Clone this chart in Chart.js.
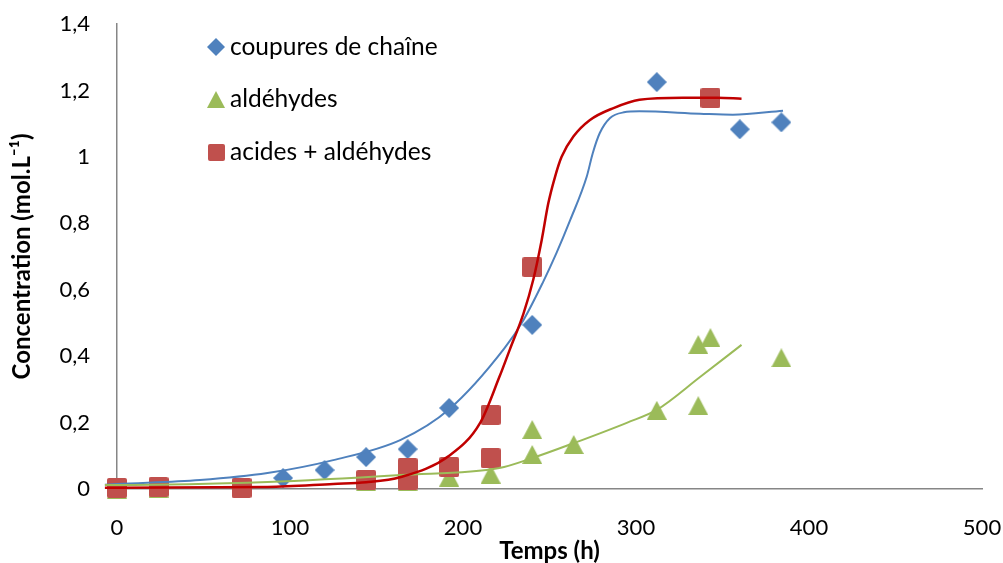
<!DOCTYPE html>
<html><head><meta charset="utf-8">
<script src="https://cdn.jsdelivr.net/npm/chart.js@4.4.0/dist/chart.umd.min.js"></script>
<style>html,body{margin:0;padding:0;background:#fff;}#wrap{width:1003px;height:563px;}</style>
</head><body><div id="wrap"><canvas id="c" width="1003" height="563"></canvas></div>
<script>
// ---- data ----
const seriesLabels = ['coupures de chaîne', 'aldéhydes', 'acides + aldéhydes'];

const coupuresX = [0, 24, 96, 120, 144, 168, 192, 240, 312, 360, 384];
const coupuresY = [0.0, 0.003, 0.033, 0.057, 0.096, 0.12, 0.244, 0.494, 1.225, 1.083, 1.104];

const aldehydesX = [0, 24, 144, 168, 192, 216, 240, 240, 264, 312, 336, 336, 343, 384];
const aldehydesY = [0.0, 0.003, 0.022, 0.022, 0.036, 0.045, 0.104, 0.179, 0.134, 0.237, 0.251, 0.435, 0.456, 0.395];

const acidesX = [0, 24, 72, 144, 168, 168, 192, 216, 216, 240, 343];
const acidesY = [0.003, 0.006, 0.003, 0.027, 0.027, 0.063, 0.066, 0.093, 0.223, 0.668, 1.177];

// fitted curves
const fitCoupuresX = [-7, 0, 48, 87, 125, 164, 192, 224, 235, 246, 254, 262, 271.5, 275, 279, 285, 293, 302, 337, 356, 385];
const fitCoupuresY = [0.013, 0.015, 0.027, 0.048, 0.087, 0.148, 0.24, 0.424, 0.509, 0.62, 0.71, 0.81, 0.94, 1.011, 1.071, 1.117, 1.134, 1.137, 1.13, 1.127, 1.139];

const fitAcidesX = [-7, 0, 87, 125, 144, 164, 192, 210, 221, 227, 235, 240.6, 245.5, 249.3, 253.2, 257, 263.8, 273.4, 287, 302, 327, 347, 361];
const fitAcidesY = [0.004, 0.004, 0.006, 0.015, 0.02, 0.036, 0.10, 0.2, 0.337, 0.419, 0.529, 0.63, 0.75, 0.86, 0.94, 1.0, 1.061, 1.111, 1.147, 1.172, 1.178, 1.178, 1.175];

const fitAldehydesX = [-7, 0, 87, 164, 221, 240, 264, 295, 312, 337, 361];
const fitAldehydesY = [0.012, 0.012, 0.021, 0.042, 0.063, 0.093, 0.138, 0.2, 0.238, 0.337, 0.434];

const xTicks = [0, 100, 200, 300, 400, 500];
const yTickLabels = ['0', '0,2', '0,4', '0,6', '0,8', '1', '1,2', '1,4'];

// ---- marker images ----
const BLUE = '#4F81BD', GREEN = '#9BBB59', RED = '#C0504D';
function mk(w, h, draw) { const c = document.createElement('canvas'); c.width = w; c.height = h; const g = c.getContext('2d'); draw(g, w, h); return c; }
function diamond(s, col) { return mk(s, s, (g, w, h) => { g.fillStyle = col; g.beginPath(); g.moveTo(w/2, 0); g.lineTo(w, h/2); g.lineTo(w/2, h); g.lineTo(0, h/2); g.closePath(); g.fill(); }); }
function triangle(w0, h0, col) { return mk(w0, h0, (g, w, h) => { g.fillStyle = col; g.beginPath(); g.moveTo(w/2, 0); g.lineTo(w, h); g.lineTo(0, h); g.closePath(); g.fill(); }); }
function square(s, col) { return mk(s, s, (g, w, h) => { g.fillStyle = col; const r = 2; g.beginPath(); g.moveTo(r, 0); g.lineTo(w-r, 0); g.quadraticCurveTo(w, 0, w, r); g.lineTo(w, h-r); g.quadraticCurveTo(w, h, w-r, h); g.lineTo(r, h); g.quadraticCurveTo(0, h, 0, h-r); g.lineTo(0, r); g.quadraticCurveTo(0, 0, r, 0); g.closePath(); g.fill(); }); }

const mDiamond = diamond(20, BLUE), mTri = triangle(20, 19, GREEN), mSq = square(20, RED);
const lDiamond = diamond(18, BLUE), lTri = triangle(18, 17, GREEN), lSq = square(17, RED);

const pts = (xs, ys) => xs.map((x, i) => ({x, y: ys[i]}));

const legendPlugin = {
  id: 'inLegend',
  afterDraw(chart) {
    const ctx = chart.ctx;
    const items = [[lDiamond, seriesLabels[0], 47], [lTri, seriesLabels[1], 99], [lSq, seriesLabels[2], 152]];
    ctx.save();
    ctx.font = '24.5px Lato';
    ctx.fillStyle = '#000';
    ctx.textBaseline = 'middle';
    ctx.textAlign = 'left';
    for (const [img, txt, y] of items) {
      ctx.drawImage(img, Math.round(216 - img.width/2), Math.round(y - img.height/2));
      ctx.fillText(txt, 230, y);
    }
    ctx.restore();
  }
};

new Chart(document.getElementById('c'), {
  type: 'scatter',
  data: {
    datasets: [
      {label: seriesLabels[0], data: pts(coupuresX, coupuresY), pointStyle: mDiamond, clip: false, order: 30},
      {label: seriesLabels[1], data: pts(aldehydesX, aldehydesY), pointStyle: mTri, clip: false, order: 20},
      {label: seriesLabels[2], data: pts(acidesX, acidesY), pointStyle: mSq, clip: false, order: 10},
      {label: 'fit1', data: pts(fitCoupuresX, fitCoupuresY), showLine: true, pointRadius: 0, borderColor: BLUE, borderWidth: 2, cubicInterpolationMode: 'monotone', clip: false, order: 3},
      {label: 'fit2', data: pts(fitAldehydesX, fitAldehydesY), showLine: true, pointRadius: 0, borderColor: GREEN, borderWidth: 2, cubicInterpolationMode: 'monotone', clip: false, order: 2},
      {label: 'fit3', data: pts(fitAcidesX, fitAcidesY), showLine: true, pointRadius: 0, borderColor: '#C00000', borderWidth: 2.5, cubicInterpolationMode: 'monotone', clip: false, order: 1}
    ]
  },
  options: {
    responsive: false,
    devicePixelRatio: 1,
    animation: false,
    layout: {padding: {left: 0, top: 24, right: 21, bottom: 0}},
    plugins: {legend: {display: false}, tooltip: {enabled: false}},
    scales: {
      x: {
        type: 'linear', min: 0, max: 500,
        afterBuildTicks(s) { s.ticks = xTicks.map(v => ({value: v})); },
        afterFit(s) { s.height = 74; s.paddingLeft = 0; s.paddingRight = 0; },
        grid: {display: false, drawTicks: false},
        border: {display: true, color: '#868686', width: 1.5},
        ticks: {padding: 26, color: '#000', font: {family: 'Lato', size: 22}},
        title: {display: true, text: 'Temps (h)', color: '#000', font: {family: 'Lato', size: 24, weight: 'bold', lineHeight: 1}, padding: {top: 0, bottom: 0}}
      },
      y: {
        type: 'linear', min: 0, max: 1.4,
        afterBuildTicks(s) { s.ticks = yTickLabels.map((t, i) => ({value: i * 0.2})); },
        afterFit(s) { s.width = 117; s.paddingTop = 0; s.paddingBottom = 0; },
        grid: {display: false, drawTicks: false},
        border: {display: true, color: '#868686', width: 1.5},
        ticks: {padding: 27, color: '#000', font: {family: 'Lato', size: 22}, callback: (v, i) => yTickLabels[i]},
        title: {display: true, text: 'Concentration (mol.L⁻¹)', color: '#000', font: {family: 'Lato', size: 24, weight: 'bold', lineHeight: 1}, padding: {top: 10, bottom: 0}}
      }
    }
  },
  plugins: [legendPlugin]
});
</script></body></html>
